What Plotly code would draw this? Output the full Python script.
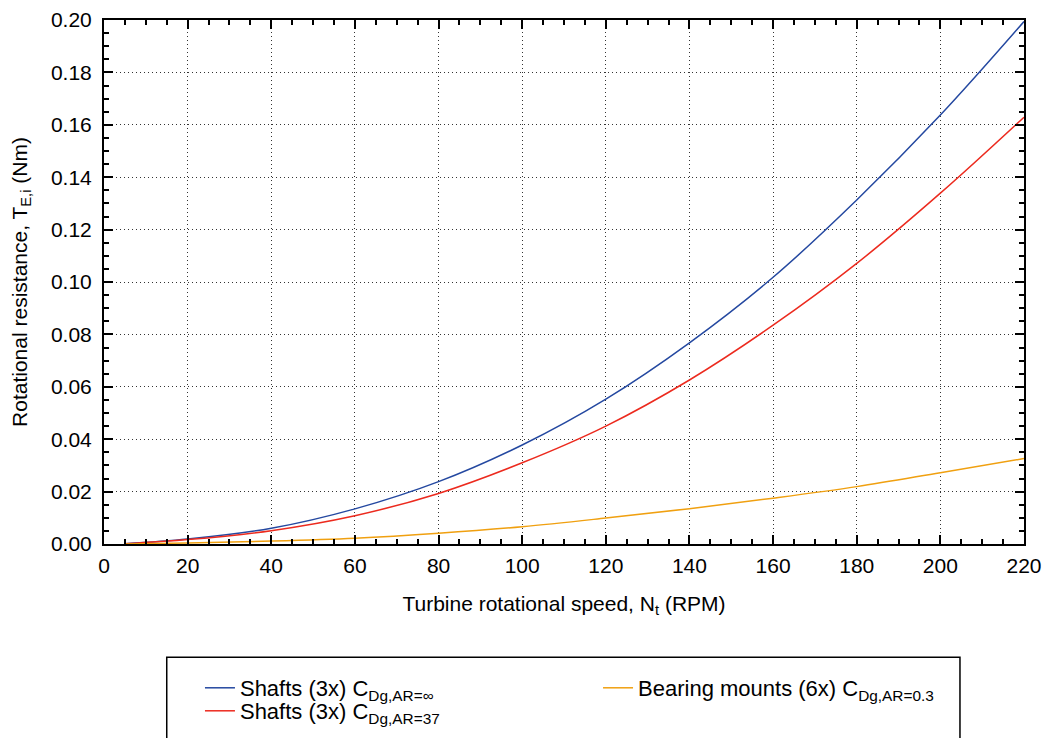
import plotly.graph_objects as go

# Turbine speed samples (RPM)
speed_rpm = [5, 20, 40, 60, 80, 100, 120, 140, 160, 180, 200, 220]

# Rotational resistance per component group (Nm)
shafts_ar_inf = [0.0001, 0.0019, 0.0060, 0.0134, 0.0238, 0.0378, 0.0553,
                 0.0768, 0.1018, 0.1313, 0.1637, 0.1994]
shafts_ar_37 = [0.0001, 0.0017, 0.0051, 0.0108, 0.0193, 0.0310, 0.0450,
                0.0626, 0.0835, 0.1071, 0.1339, 0.1629]
bearing_mounts = [0.00003, 0.0004, 0.0011, 0.0022, 0.0041, 0.0066, 0.0099,
                  0.0135, 0.0175, 0.0219, 0.0272, 0.0326]

x_ticks = list(range(0, 221, 20))
y_ticks = [round(0.02 * i, 2) for i in range(11)]

FONT = "Liberation Sans, Arial, sans-serif"

fig = go.Figure()
fig.add_trace(go.Scatter(
    x=speed_rpm, y=shafts_ar_inf, mode="lines", line_shape="spline",
    line=dict(color="#2448a0", width=1.5),
    name="Shafts (3x) C<sub>Dg,AR=∞</sub>", legend="legend"))
fig.add_trace(go.Scatter(
    x=speed_rpm, y=shafts_ar_37, mode="lines", line_shape="spline",
    line=dict(color="#ec2a1e", width=1.5),
    name="Shafts (3x) C<sub>Dg,AR=37</sub>", legend="legend2"))
fig.add_trace(go.Scatter(
    x=speed_rpm, y=bearing_mounts, mode="lines", line_shape="spline",
    line=dict(color="#f0a010", width=1.5),
    name="Bearing mounts (6x) C<sub>Dg,AR=0.3</sub>", legend="legend3"))

axis_common = dict(
    showline=True, linecolor="black", linewidth=2, mirror="allticks",
    ticks="inside", ticklen=9, tickwidth=1.5, tickcolor="black",
    showgrid=True, gridcolor="#333333", gridwidth=1, griddash="1px,3px",
    zeroline=False,
    tickfont=dict(family=FONT, size=21, color="black"),
)

fig.update_xaxes(
    range=[0, 220], tickvals=x_ticks, ticklabelstandoff=2,
    minor=dict(dtick=5, ticks="inside", ticklen=5, tickcolor="black",
               tickwidth=1.5, showgrid=False),
    title=dict(text="Turbine rotational speed, N<sub>t</sub> (RPM)",
               font=dict(family=FONT, size=21, color="black"), standoff=20),
    **axis_common)
fig.update_yaxes(
    range=[0, 0.2], tickvals=y_ticks, tickformat=".2f", ticklabelstandoff=6,
    minor=dict(dtick=0.005, ticks="inside", ticklen=5, tickcolor="black",
               tickwidth=1.5, showgrid=False),
    title=dict(text="Rotational resistance, T<sub>E,i</sub> (Nm)",
               font=dict(family=FONT, size=21, color="black"), standoff=18),
    **axis_common)

legend_font = dict(family=FONT, size=22, color="black")
legend_box = dict(xanchor="left", yanchor="middle", orientation="v",
                  font=legend_font, bgcolor="rgba(0,0,0,0)", borderwidth=0)

fig.update_layout(
    width=1046, height=738,
    margin=dict(l=104, r=22, t=20, b=194, autoexpand=False),
    paper_bgcolor="white", plot_bgcolor="white",
    font=dict(family=FONT, size=21, color="black"),
    showlegend=True,
    legend=dict(x=0.1043, y=-0.2748, **legend_box),
    legend2=dict(x=0.1043, y=-0.3187, **legend_box),
    legend3=dict(x=0.537, y=-0.2748, **legend_box),
    shapes=[dict(type="rect", xref="paper", yref="paper",
                 x0=0.0682, x1=0.9304, y0=-0.2162, y1=-0.45,
                 line=dict(color="black", width=1.5), layer="below")],
)

fig.write_html("out.html")
